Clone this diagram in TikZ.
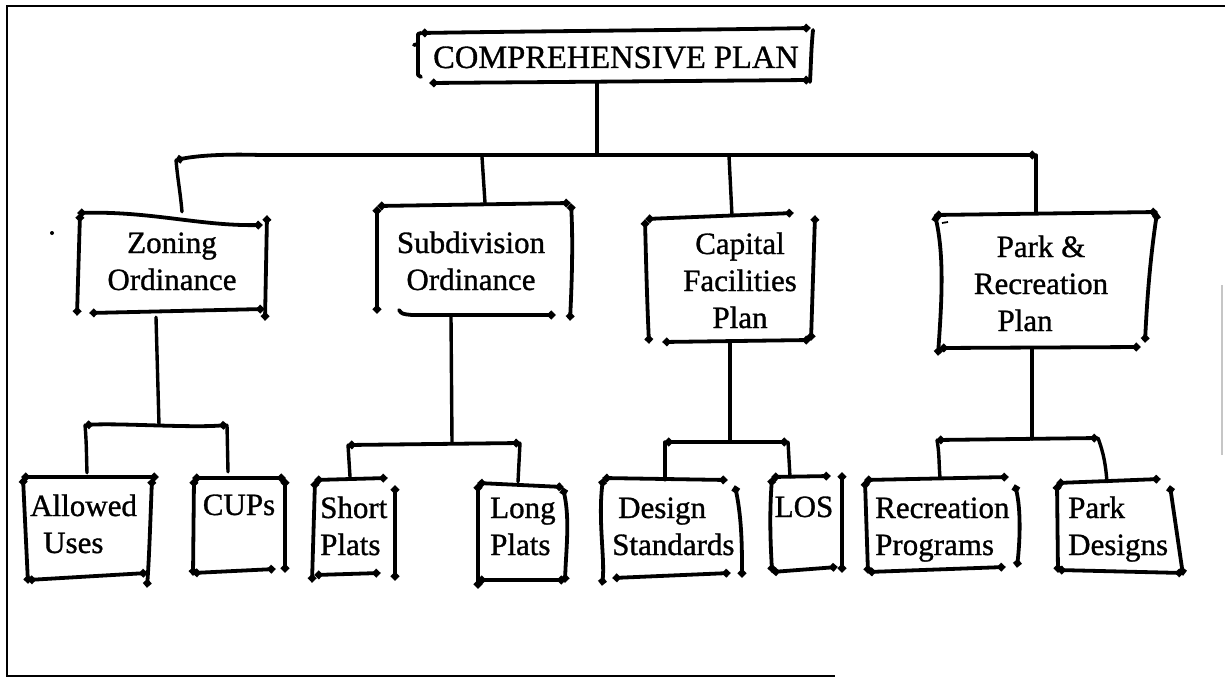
\documentclass[tikz,border=0pt]{standalone}
\usepackage{fontspec}
\setmainfont{Liberation Serif}[FakeBold=1.0]
\usetikzlibrary{fit,arrows.meta,calc}
\begin{document}
\begin{tikzpicture}[x=1pt,y=-1pt,
  hs/.style={line width=3.8pt, line cap=round, line join=round},
  hedge/.style={hs, {Circle[length=7.5pt,width=7.5pt]}-{Circle[length=7.5pt,width=7.5pt]}},
  conn/.style={line width=3.4pt, line cap=round},
  boxarea/.style={inner sep=0pt, draw=none},
  txt/.style={inner sep=0pt, font=\fontsize{31}{37}\selectfont},
  frameline/.style={line width=2.8pt}
]
\useasboundingbox (0,0) rectangle (1225,679);

% outer frame
\draw[frameline] (1225,6) -- (7,6) -- (7,676) -- (835,676);
\draw[gray!45, line width=1.5pt] (1222,285) -- (1222,455);
\fill (52,233) circle (2);

% ---------- box areas ----------
\node[boxarea, fit={(418,29) (813,83)}] (top) {};
\node[boxarea, fit={(77,212) (267,320)}] (zon) {};
\node[boxarea, fit={(377,203) (571,320)}] (sub) {};
\node[boxarea, fit={(645,213) (815,343)}] (cap) {};
\node[boxarea, fit={(935,212) (1157,355)}] (park) {};
\node[boxarea, fit={(22,477) (158,587)}] (all) {};
\node[boxarea, fit={(193,478) (285,575)}] (cups) {};
\node[boxarea, fit={(312,478) (395,582)}] (sho) {};
\node[boxarea, fit={(478,483) (567,588)}] (lon) {};
\node[boxarea, fit={(600,478) (742,585)}] (des) {};
\node[boxarea, fit={(770,473) (842,572)}] (los) {};
\node[boxarea, fit={(865,477) (1020,573)}] (rec) {};
\node[boxarea, fit={(1057,479) (1183,575)}] (pd) {};

% ---------- texts ----------
\node[txt, font=\fontsize{32.5}{38}\selectfont, anchor=base] (topT) at (616,68) {COMPREHENSIVE PLAN};
\node[txt, anchor=base] (zonT) at (172,290) {\begin{tabular}[b]{@{}c@{}}Zoning\\Ordinance\end{tabular}};
\node[txt, anchor=base] (subT) at (471,290) {\begin{tabular}[b]{@{}c@{}}Subdivision\\Ordinance\end{tabular}};
\node[txt, anchor=base] (capT) at (740,328) {\begin{tabular}[b]{@{}c@{}}Capital\\Facilities\\Plan\end{tabular}};
\node[txt, anchor=base] (parkT) at (1041,331) {\begin{tabular}[b]{@{}c@{}}Park \&\\Recreation\\Plan\hphantom{\ \&}\end{tabular}};
\node[txt, anchor=base west] (allT) at (30,553) {\begin{tabular}[b]{@{}l@{}}Allowed\\\hspace{13pt}Uses\end{tabular}};
\node[txt, anchor=base] (cupsT) at (239,515) {CUPs};
\node[txt, anchor=base west] (shoT) at (320,555) {\begin{tabular}[b]{@{}l@{}}Short\\Plats\end{tabular}};
\node[txt, anchor=base west] (lonT) at (490,555) {\begin{tabular}[b]{@{}l@{}}Long\\Plats\end{tabular}};
\node[txt, anchor=base west] (desT) at (612,555) {\begin{tabular}[b]{@{}l@{}}\hspace{6pt}Design\\Standards\end{tabular}};
\node[txt, anchor=base] (losT) at (804,517) {LOS};
\node[txt, anchor=base west] (recT) at (875,555) {\begin{tabular}[b]{@{}l@{}}Recreation\\Programs\end{tabular}};
\node[txt, anchor=base west] (pdT) at (1068,555) {\begin{tabular}[b]{@{}l@{}}Park\\Designs\end{tabular}};

% ---------- hand-drawn box outlines ----------
% top
\draw[hedge] (421,33) .. controls (550,31) and (700,30) .. (810,28);
\draw[hs] (421,33) -- (418,34) -- (418,75) -- (421,77);
\draw[hs] (418,44) -- (414,45);
\draw[hs] (813,30) .. controls (811,50) and (811,65) .. (810,82);
\draw[hedge] (430,83) -- (810,80);
% zoning
\draw[hedge] (78,213) .. controls (150,211) and (200,226) .. (262,225);
\draw[hedge] (80,214) -- (77,315);
\draw[hedge] (267,216) -- (265,320);
\draw[hedge] (90,313) -- (264,309);
% subdivision
\draw[hedge] (378,206) -- (570,203);
\draw[hedge] (377,207) -- (377,313);
\draw[hedge] (571,204) .. controls (573,240) and (572,280) .. (570,320);
\draw[hs, -{Circle[length=7.5pt,width=7.5pt]}] (399,310) .. controls (402,314) .. (412,315) -- (555,315);
% capital
\draw[hedge] (646,219) -- (793,213);
\draw[hedge] (645,220) .. controls (646,260) and (647,300) .. (649,343);
\draw[hedge] (815,216) -- (811,340);
\draw[hedge] (663,342) -- (810,340);
% park
\draw[hedge] (935,215) -- (1157,212);
\draw[hedge] (935,215) .. controls (945,260) and (941,310) .. (938,355);
\draw[hedge] (1157,213) .. controls (1150,260) and (1147,300) .. (1145,342);
\draw[hedge] (940,348) -- (1140,347);
\draw[line width=1.8pt] (942,223) -- (948,222);
% allowed uses
\draw[hedge] (22,477) -- (158,477);
\draw[hedge] (23,478) -- (28,583);
\draw[hedge] (152,479) .. controls (150,530) and (149,560) .. (147,587);
\draw[hedge] (28,580) -- (147,573);
% cups
\draw[hedge] (193,478) -- (285,478);
\draw[hedge] (194,479) -- (193,575);
\draw[hedge] (285,479) -- (285,572);
\draw[hedge] (193,573) -- (275,569);
% short plats
\draw[hedge] (315,480) -- (387,478);
\draw[hedge] (315,481) -- (312,582);
\draw[hedge] (395,486) -- (395,580);
\draw[hedge] (315,575) -- (380,573);
% long plats
\draw[hedge] (478,483) -- (563,487);
\draw[hedge] (478,484) -- (478,588);
\draw[hedge] (563,488) .. controls (570,520) and (566,550) .. (565,582);
\draw[hedge] (478,580) -- (565,580);
% design standards
\draw[hedge] (603,478) -- (727,480);
\draw[hedge] (603,479) .. controls (598,520) and (605,560) .. (602,585);
\draw[hedge] (735,486) .. controls (742,520) and (742,550) .. (742,577);
\draw[hedge] (613,578) -- (730,573);
% LOS
\draw[hedge] (772,477) -- (830,476);
\draw[hedge] (772,478) .. controls (769,520) and (771,550) .. (772,572);
\draw[hedge] (842,473) -- (842,572);
\draw[hedge] (772,572) -- (837,567);
% recreation programs
\draw[hedge] (865,480) -- (1008,477);
\draw[hedge] (865,481) -- (868,573);
\draw[hedge] (1015,485) .. controls (1021,510) and (1020,540) .. (1017,567);
\draw[hedge] (868,572) -- (1005,567);
% park designs
\draw[hedge] (1057,483) -- (1160,479);
\draw[hedge] (1057,484) -- (1058,572);
\draw[hedge] (1170,486) -- (1183,575);
\draw[hedge] (1058,570) -- (1183,573);

% ---------- connectors ----------
\coordinate (j0) at (597,155);
\coordinate (bL) at (176,160);
\coordinate (bR) at (1036,155);
\coordinate (j2) at (482,157);
\coordinate (j3) at (729,156);
\draw[conn] (j0 |- top.south) -- (j0);
\draw[hedge] (bL) .. controls (200,155) and (230,154) .. (260,155) -- (bR);
\draw[conn] (bL) to[out=-85,in=95] ($(bL |- zon.north)+(6,0)$);
\draw[conn] (j2) -- ($(j2 |- sub.north)+(3,0)$);
\draw[conn] (j3) -- ($(j3 |- cap.north)+(3,3)$);
\draw[conn] (bR) -- (bR |- park.north);

% zoning branch
\coordinate (k1) at (159,425);
\coordinate (k1L) at (85,425);
\coordinate (k1R) at (227,425);
\draw[conn] ($(k1 |- zon.south)+(-3,-3)$) -- (k1);
\draw[hedge] (k1L) .. controls (120,423) and (190,428) .. (k1R);
\draw[conn] (k1L) to[out=-85,in=92] ($(k1L |- all.north)+(2,-4)$);
\draw[conn] (k1R) -- ($(k1R |- cups.north)+(1,-6)$);

% subdivision branch
\coordinate (k2) at (452,443);
\coordinate (k2L) at (348,445);
\coordinate (k2R) at (520,443);
\draw[conn] ($(k2 |- sub.south)+(-1,-3)$) -- (k2);
\draw[hedge] (k2L) -- (k2R);
\draw[conn] (k2L) -- ($(k2L |- sho.north)+(2,-1)$);
\draw[conn] (k2R) -- ($(k2R |- lon.north)+(-2,-1)$);

% capital branch
\coordinate (k3) at (730,442);
\coordinate (k3L) at (665,442);
\coordinate (k3R) at (788,442);
\draw[conn] (k3 |- cap.south) -- (k3);
\draw[hedge] (k3L) -- (k3R);
\draw[conn] (k3L) -- ($(k3L |- des.north)+(0,2)$);
\draw[conn] (k3R) -- ($(k3R |- los.north)+(2,4)$);

% park branch
\coordinate (k4) at (1032,439);
\coordinate (k4L) at (937,440);
\coordinate (k4R) at (1098,438);
\draw[conn] ($(k4 |- park.south)+(0,-6)$) -- (k4);
\draw[hedge] (k4L) -- (k4R);
\draw[conn] (k4L) to[out=-80,in=95] ($(k4L |- rec.north)+(3,1)$);
\draw[conn] (k4R) to[out=-70,in=95] ($(k4R |- pd.north)+(9,3)$);
\end{tikzpicture}
\end{document}
